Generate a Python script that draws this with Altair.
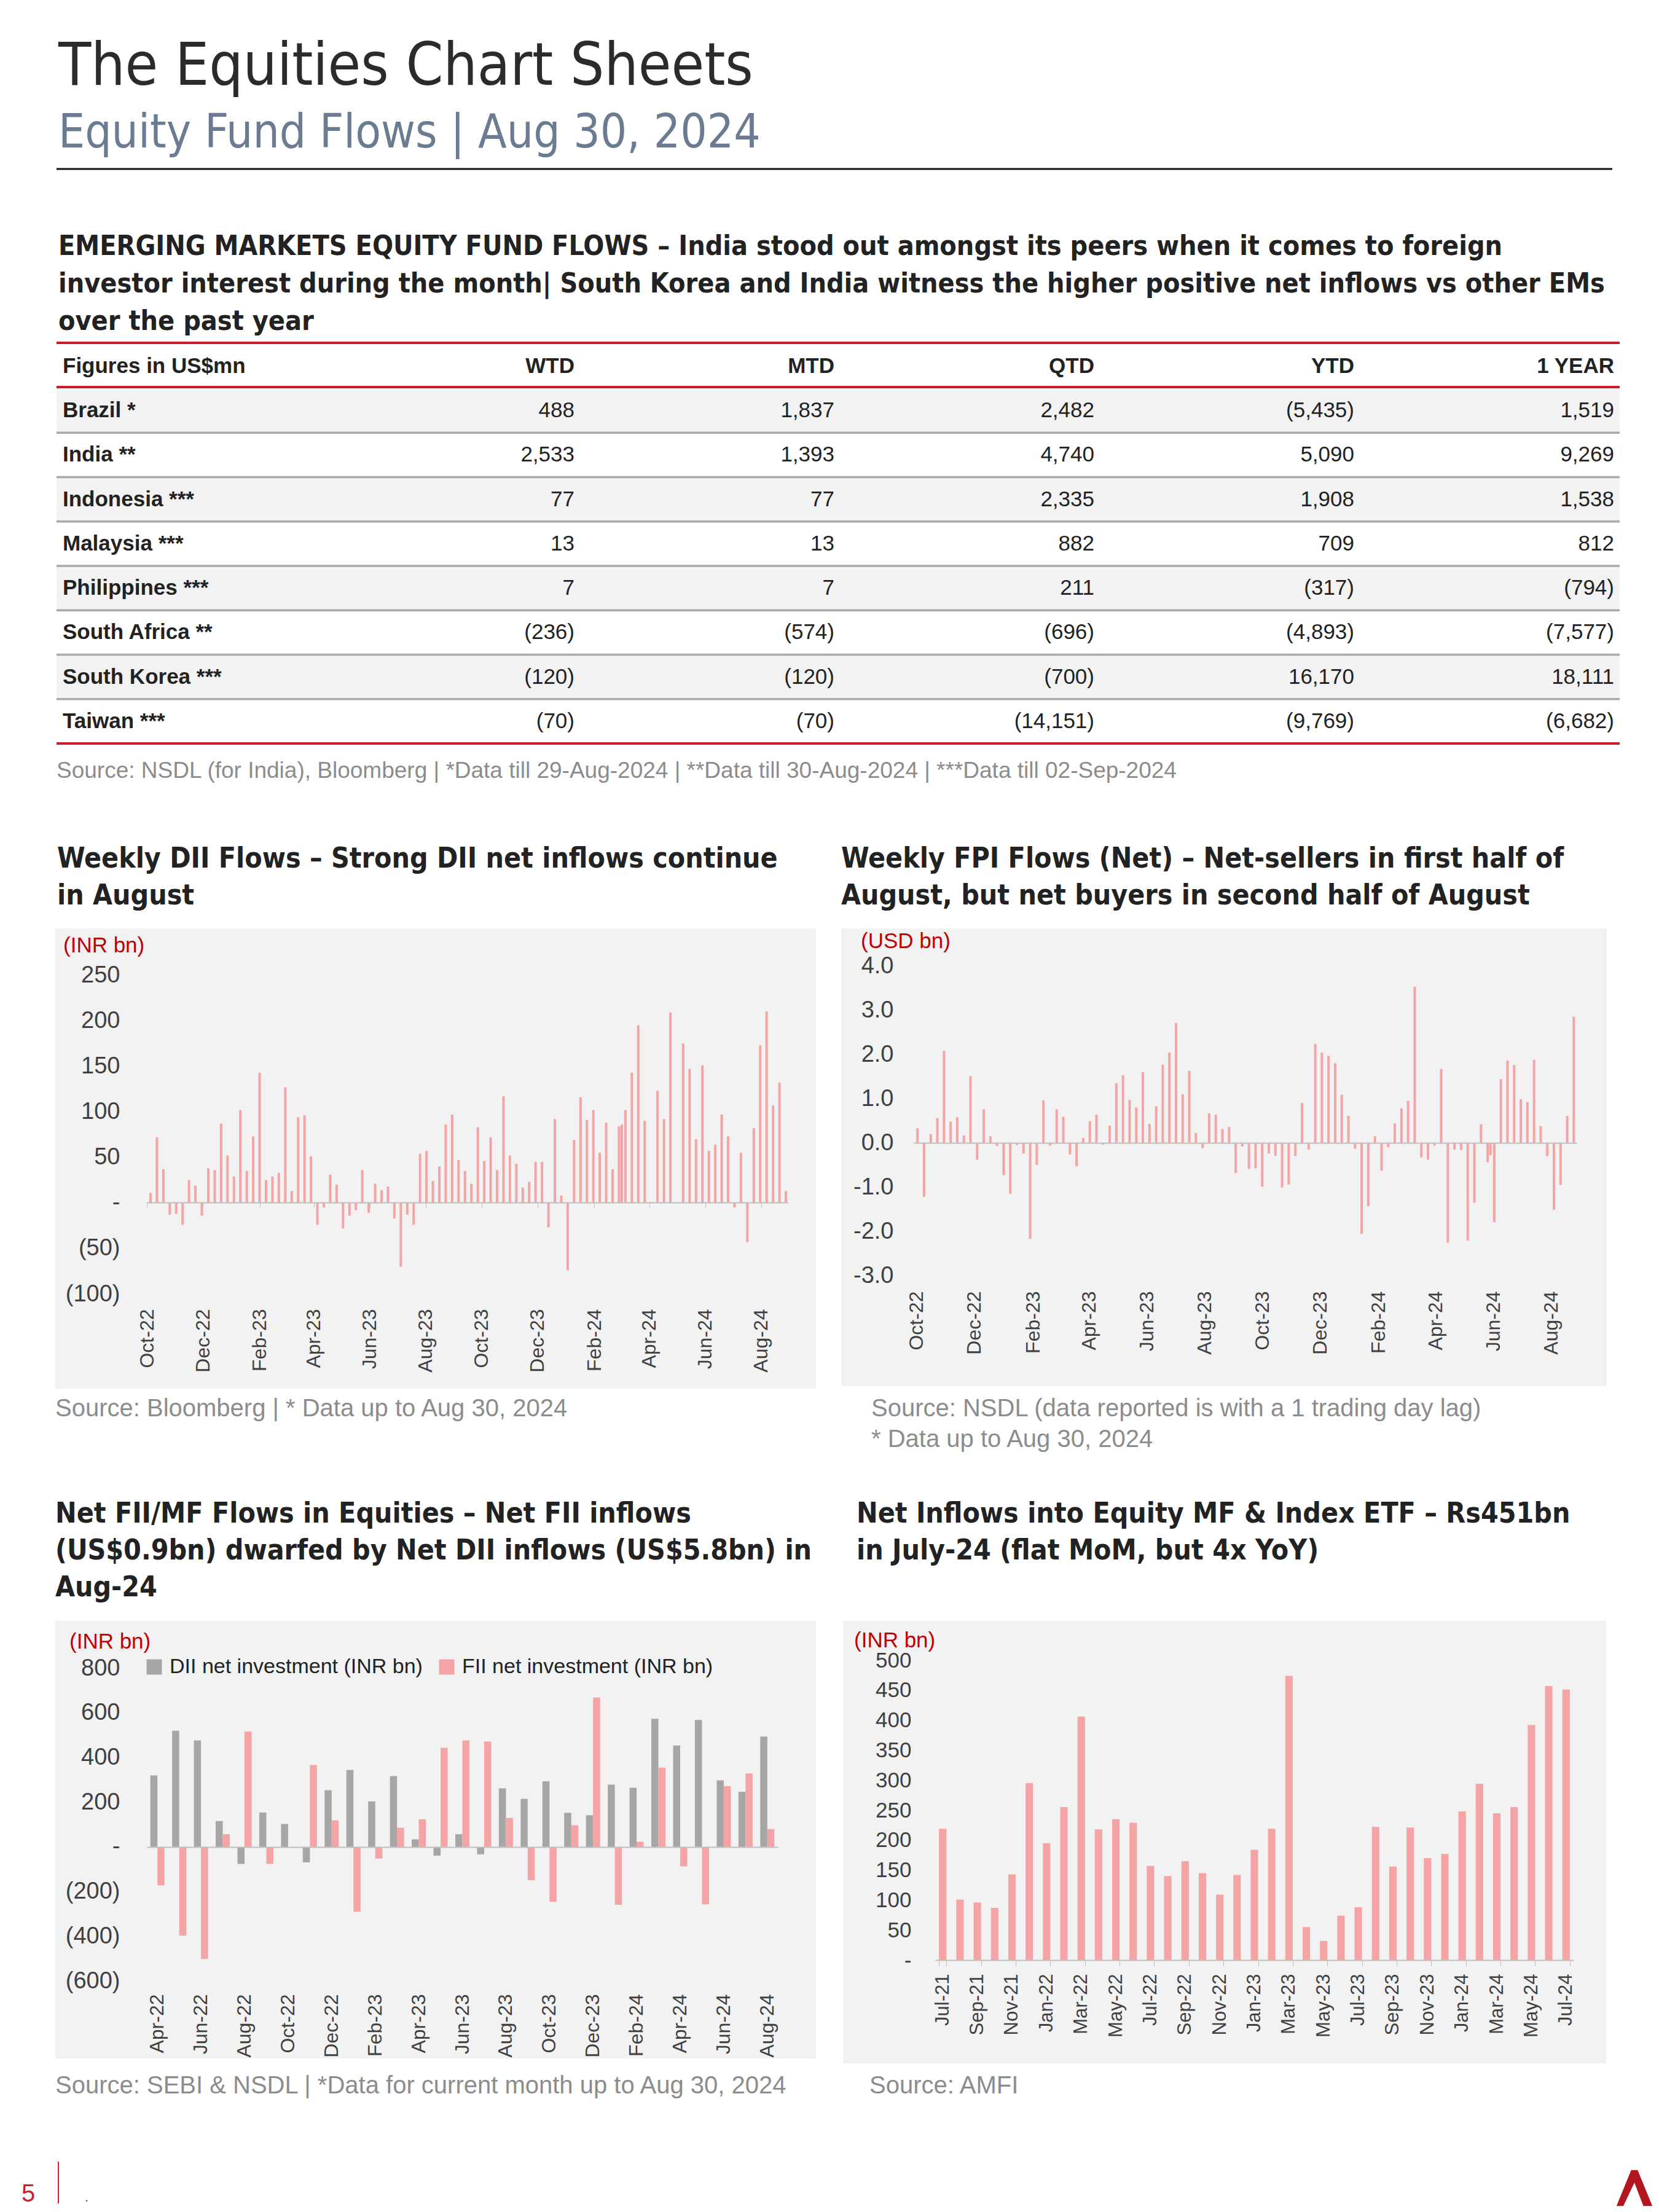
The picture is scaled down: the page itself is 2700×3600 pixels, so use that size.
import altair as alt
import pandas as pd

# ---------------- data ----------------
countries = ["Brazil *", "India **", "Indonesia ***", "Malaysia ***", "Philippines ***",
             "South Africa **", "South Korea ***", "Taiwan ***"]
table_cols = ["WTD", "MTD", "QTD", "YTD", "1 YEAR"]
wtd = [488, 2533, 77, 13, 7, -236, -120, -70]
mtd = [1837, 1393, 77, 13, 7, -574, -120, -70]
qtd = [2482, 4740, 2335, 882, 211, -696, -700, -14151]
ytd = [-5435, 5090, 1908, 709, -317, -4893, 16170, -9769]
one_year = [1519, 9269, 1538, 812, -794, -7577, 18111, -6682]

# weekly DII flows (INR bn)
dii_week = [11, 72, 37, -13, -12, -24, 25, 19, -14, 38,
            36, 87, 52, 29, 102, 35, 73, 143, 25, 29,
            33, 127, 13, 94, 96, 51, -24, -5, 31, 20,
            -28, -14, -8, 36, -11, 21, 14, 18, -17, -70,
            -13, -24, 54, 57, 24, 40, 86, 97, 47, 35,
            21, 83, 46, 72, 36, 117, 52, 43, 17, 23,
            45, 45, -27, 92, 8, -74, 69, 116, 91, 102,
            55, 88, 37, 84, 86, 102, 143, 195, 90, 1,
            123, 92, 209, 0, 175, 147, 70, 151, 57, 64,
            97, 73, -5, 55, -43, 82, 173, 210, 107, 132,
            13]
# weekly FPI flows (USD bn)
fpi_week = [0.33, -1.22, 0.20, 0.56, 2.08, 0.48, 0.58, 0.17, 1.51, -0.38,
            0.76, 0.15, -0.07, -0.73, -1.15, -0.05, -0.24, -2.17, -0.50, 0.96,
            -0.06, 0.76, 0.59, -0.26, -0.53, 0.11, 0.49, 0.64, -0.04, 0.39,
            1.35, 1.53, 0.97, 0.80, 1.60, 0.43, 0.83, 1.77, 2.04, 2.71,
            1.10, 1.63, 0.22, -0.12, 0.67, 0.64, 0.31, 0.36, -0.68, -0.08,
            -0.59, -0.57, -0.99, -0.24, -0.29, -1.01, -0.94, -0.30, 0.90, -0.15,
            2.24, 2.04, 1.97, 1.80, 1.09, 0.61, -0.13, -2.06, -1.43, 0.15,
            -0.63, -0.10, 0.44, 0.78, 0.95, 3.53, -0.33, -0.38, -0.06, 1.67,
            -2.26, -0.15, -0.16, -2.21, -1.35, 0.42, -0.44, -0.28, -1.79, 1.44,
            1.86, 1.76, 0.99, 0.92, 1.88, 0.38, -0.30, -1.51, -0.95, 0.61,
            2.85]

# monthly DII / FII (INR bn), Apr-22 .. Aug-24
fm_months = list(pd.date_range("2022-04-01", periods=29, freq="MS").strftime("%b-%y"))
dii_month = [320, 520, 477, 116, -76, 154, 103, -69, 254, 345, 204, 317, 34, -39, 57,
             -33, 262, 215, 294, 153, 142, 279, 265, 574, 454, 568, 298, 247, 494]
fii_month = [-172, -397, -502, 57, 517, -76, 0, 367, 119, -290, -52, 86, 124, 444, 477,
             472, 130, -149, -246, 97, 669, -259, 23, 355, -87, -257, 272, 329, 80]
series_names = ["DII net investment (INR bn)", "FII net investment (INR bn)"]

# monthly equity MF & index ETF inflows (INR bn), Jul-21 .. Jul-24
mf_months = list(pd.date_range("2021-07-01", periods=37, freq="MS").strftime("%b-%y"))
mf_flows = [219, 101, 96, 87, 143, 295, 195, 255, 406, 218, 235, 229, 157, 140, 165, 145,
            109, 142, 184, 219, 474, 55, 32, 74, 88, 222, 156, 221, 170, 177, 248, 294,
            245, 255, 392, 457, 451]

# ---------------- styling / layout ----------------
W, H = 2684, 3584
FONT_HEAD = "DejaVu Sans Condensed, DejaVu Sans, sans-serif"
FONT_BODY = "Liberation Sans, Arial, sans-serif"
DARK = "#222222"
RED = "#cc1e2b"
UNIT_RED = "#c00000"
PINK = "#f4a4a4"
GRAY_BAR = "#a6a6a6"
PANEL = "#f2f2f2"
ROW_SHADE = "#f2f2f2"
SEP = "#a9a9a9"
SRC = "#8c8c8c"
AXIS_LBL = "#404040"
SUB = "#6b7c92"
AX_LINE = "#bfbfbf"
LOGO_PATH = "M -1 1 L -0.18 -1 L 0.18 -1 L 1 1 L 0.5 1 L 0 -0.3 L -0.62 1 Z"

PAREN = ("datum.value == 0 ? '-' : (datum.value < 0 ? '(' + format(-datum.value, ',') + ')'"
         " : format(datum.value, ','))")
DASH0 = "datum.value == 0 ? '-' : format(datum.value, ',')"
ONE_DEC = "(datum.value < 0 ? '-' : '') + format(abs(datum.value), '.1f')"


def dt(y, m, d):
    return alt.DateTime(year=y, month=m, date=d, utc=True)


def txt(s, x, y, size, color=DARK, weight="normal", font=FONT_HEAD, align="left",
        baseline="alphabetic"):
    return alt.Chart(pd.DataFrame({"t": [s]})).mark_text(
        align=align, baseline=baseline, fontSize=size, font=font, color=color,
        fontWeight=weight).encode(text="t:N", x=alt.value(x), y=alt.value(y))


def box(x0, x1, y0, y1, color):
    return alt.Chart(pd.DataFrame({"a": [0]})).mark_rect(color=color).encode(
        x=alt.value(x0), x2=alt.value(x1), y=alt.value(y0), y2=alt.value(y1))


def hline(x0, x1, y, color, w):
    return alt.Chart(pd.DataFrame({"a": [0]})).mark_rule(color=color, strokeWidth=w).encode(
        x=alt.value(x0), x2=alt.value(x1), y=alt.value(y))


def vline(x, y0, y1, color, w):
    return alt.Chart(pd.DataFrame({"a": [0]})).mark_rule(color=color, strokeWidth=w).encode(
        x=alt.value(x), y=alt.value(y0), y2=alt.value(y1))


def yaxis(offset, values, size=38, **kw):
    return alt.Axis(orient="left", offset=offset, values=values, domain=False, ticks=False,
                    tickSize=0, labelPadding=0, title=None, zindex=2, labelFontSize=size,
                    labelColor=AXIS_LBL, labelFont=FONT_BODY, grid=False, **kw)


def xaxis(offset, values, padding, size=32, **kw):
    return alt.Axis(orient="bottom", offset=offset, values=values, labelAngle=270,
                    labelAlign="right", labelBaseline="middle", labelPadding=padding,
                    domainWidth=2, domainColor=AX_LINE, tickColor=AX_LINE, labelFontSize=size,
                    labelColor=AXIS_LBL, labelFont=FONT_BODY, labelOverlap=False,
                    labelFlush=False, title=None, zindex=2, grid=False, **kw)


layers = []

# ---------------- header ----------------
layers.append(txt("The Equities Chart Sheets", 87, 130, 97, color="#2b2b2b"))
layers.append(txt("Equity Fund Flows | Aug 30, 2024", 87, 232, 76, color=SUB))
layers.append(hline(84, 2616, 267, "#111111", 3))
head_lines = ["EMERGING MARKETS EQUITY FUND FLOWS \u2013 India stood out amongst its peers when it comes to foreign",
              "investor interest during the month| South Korea and India witness the higher positive net inflows vs other EMs",
              "over the past year"]
for i, line in enumerate(head_lines):
    layers.append(txt(line, 87, 407 + 61 * i, 44.5, weight="bold"))

# ---------------- table ----------------
tbl_y = alt.Scale(type="band", domain=countries, range=[624, 1202], paddingInner=0, paddingOuter=0)
tbl_x = alt.Scale(type="point", domain=table_cols, range=[927, 2619], padding=0)
rows_df = pd.DataFrame({"country": countries, "idx": list(range(len(countries)))})

layers.append(alt.Chart(rows_df).mark_rect().encode(
    y=alt.Y("country:N", scale=tbl_y, axis=None),
    x=alt.value(84), x2=alt.value(2628),
    color=alt.condition("datum.idx % 2 == 0", alt.value(ROW_SHADE), alt.value("white"))))
layers.append(alt.Chart(rows_df[rows_df.idx < 7]).mark_rule(color=SEP, strokeWidth=3.5).encode(
    y=alt.Y("country:N", scale=tbl_y, axis=None, bandPosition=1),
    x=alt.value(84), x2=alt.value(2628)))
layers.append(hline(84, 2628, 550, RED, 4))
layers.append(hline(84, 2628, 622, RED, 4))
layers.append(hline(84, 2628, 1202, RED, 4))

layers.append(txt("Figures in US$mn", 94, 588, 35, weight="bold", font=FONT_BODY, baseline="middle"))
layers.append(alt.Chart(pd.DataFrame({"col": table_cols})).mark_text(
    align="right", baseline="middle", fontSize=35, font=FONT_BODY, fontWeight="bold", color=DARK
).encode(x=alt.X("col:N", scale=tbl_x, axis=None), y=alt.value(588), text="col:N"))


def fmt(v):
    return f"{v:,}" if v >= 0 else f"({-v:,})"


cells = []
for i, c in enumerate(countries):
    for col, arr in zip(table_cols, [wtd, mtd, qtd, ytd, one_year]):
        cells.append({"country": c, "col": col, "v": fmt(arr[i])})
cells_df = pd.DataFrame(cells)

layers.append(alt.Chart(rows_df).mark_text(
    align="left", baseline="middle", fontSize=35, font=FONT_BODY, fontWeight="bold", color=DARK
).encode(y=alt.Y("country:N", scale=tbl_y, axis=None), x=alt.value(94), text="country:N"))
layers.append(alt.Chart(cells_df).mark_text(
    align="right", baseline="middle", fontSize=35, font=FONT_BODY, color=DARK
).encode(y=alt.Y("country:N", scale=tbl_y, axis=None),
         x=alt.X("col:N", scale=tbl_x, axis=None), text="v:N"))
layers.append(txt("Source: NSDL (for India), Bloomberg | *Data till 29-Aug-2024 | **Data till 30-Aug-2024 | ***Data till 02-Sep-2024",
                  84, 1247, 37, color=SRC, font=FONT_BODY, baseline="middle"))

# ---------------- panel backgrounds ----------------
layers.append(box(82, 1320, 1503, 2252, PANEL))
layers.append(box(1361, 2607, 1503, 2248, PANEL))
layers.append(box(82, 1320, 2630, 3342, PANEL))
layers.append(box(1364, 2606, 2630, 3350, PANEL))

# ---------------- chart titles & sources ----------------
for i, line in enumerate(["Weekly DII Flows \u2013 Strong DII net inflows continue", "in August"]):
    layers.append(txt(line, 85, 1404 + 60 * i, 46, weight="bold"))
for i, line in enumerate(["Weekly FPI Flows (Net) \u2013 Net-sellers in first half of",
                          "August, but net buyers in second half of August"]):
    layers.append(txt(line, 1361, 1404 + 60 * i, 46, weight="bold"))
for i, line in enumerate(["Net FII/MF Flows in Equities \u2013 Net FII inflows",
                          "(US$0.9bn) dwarfed by Net DII inflows (US$5.8bn) in", "Aug-24"]):
    layers.append(txt(line, 82, 2470 + 60 * i, 46, weight="bold"))
for i, line in enumerate(["Net Inflows into Equity MF & Index ETF \u2013 Rs451bn",
                          "in July-24 (flat MoM, but 4x YoY)"]):
    layers.append(txt(line, 1386, 2470 + 60 * i, 46, weight="bold"))

layers.append(txt("Source: Bloomberg | * Data up to Aug 30, 2024", 82, 2285, 40, color=SRC,
                  font=FONT_BODY, baseline="middle"))
layers.append(txt("Source: NSDL (data reported is with a 1 trading day lag)", 1410, 2285, 40,
                  color=SRC, font=FONT_BODY, baseline="middle"))
layers.append(txt("* Data up to Aug 30, 2024", 1410, 2335, 40, color=SRC, font=FONT_BODY,
                  baseline="middle"))
layers.append(txt("Source: SEBI & NSDL | *Data for current month up to Aug 30, 2024", 82, 3387, 40,
                  color=SRC, font=FONT_BODY, baseline="middle"))
layers.append(txt("Source: AMFI", 1407, 3387, 40, color=SRC, font=FONT_BODY, baseline="middle"))

# unit labels
layers.append(txt("(INR bn)", 95, 1531, 35, color=UNIT_RED, font=FONT_BODY, baseline="middle"))
layers.append(txt("(USD bn)", 1393, 1524, 35, color=UNIT_RED, font=FONT_BODY, baseline="middle"))
layers.append(txt("(INR bn)", 105, 2664, 35, color=UNIT_RED, font=FONT_BODY, baseline="middle"))
layers.append(txt("(INR bn)", 1382, 2662, 35, color=UNIT_RED, font=FONT_BODY, baseline="middle"))

month_ticks = [dt(2022, 10, 1), dt(2022, 12, 1), dt(2023, 2, 1), dt(2023, 4, 1), dt(2023, 6, 1),
               dt(2023, 8, 1), dt(2023, 10, 1), dt(2023, 12, 1), dt(2024, 2, 1), dt(2024, 4, 1),
               dt(2024, 6, 1), dt(2024, 8, 1)]
MON_FMT = "utcFormat(datum.value, '%b-%y')"

# ---------------- weekly DII ----------------
dii_reg = pd.date_range("2022-10-05", periods=100, freq="7D")
dii_dates = list(dii_reg[:74]) + [dii_reg[73] + pd.Timedelta(days=3)] + list(dii_reg[74:])
dii_df = pd.DataFrame({"date": [d.strftime("%Y-%m-%d") for d in dii_dates], "value": dii_week})
DII_ZERO = 1949
layers.append(alt.Chart(dii_df).mark_bar(width=4, color=PINK).encode(
    x=alt.X("date:T",
            scale=alt.Scale(type="utc", domain=[dt(2022, 10, 1), dt(2024, 8, 30)],
                            range=[231, 1274], nice=False, padding=0),
            axis=xaxis(DII_ZERO - H, month_ticks, 165, labelExpr=MON_FMT, tickSize=8)),
    y=alt.Y("value:Q",
            scale=alt.Scale(domain=[-100, 250], range=[2098, 1579], nice=False),
            axis=yaxis(-187, [-100, -50, 0, 50, 100, 150, 200, 250], labelExpr=PAREN)),
    y2=alt.datum(0)))

# ---------------- weekly FPI ----------------
fpi_reg = pd.date_range("2022-10-02", periods=100, freq="7D")
fpi_dates = list(fpi_reg[:87]) + [fpi_reg[86] + pd.Timedelta(days=3)] + list(fpi_reg[87:])
fpi_df = pd.DataFrame({"date": [d.strftime("%Y-%m-%d") for d in fpi_dates], "value": fpi_week})
FPI_ZERO = 1852
layers.append(alt.Chart(fpi_df).mark_bar(width=4, color=PINK).encode(
    x=alt.X("date:T",
            scale=alt.Scale(type="utc", domain=[dt(2022, 9, 28), dt(2024, 8, 28)],
                            range=[1479, 2558], nice=False, padding=0),
            axis=xaxis(FPI_ZERO - H, month_ticks, 241, labelExpr=MON_FMT, ticks=False,
                       tickSize=0)),
    y=alt.Y("value:Q",
            scale=alt.Scale(domain=[-3, 4], range=[2068, 1564], nice=False),
            axis=yaxis(-1446, [-3, -2, -1, 0, 1, 2, 3, 4], labelExpr=ONE_DEC)),
    y2=alt.datum(0)))

# ---------------- monthly DII / FII ----------------
fm_rows = []
for m, d, f in zip(fm_months, dii_month, fii_month):
    fm_rows.append({"month": m, "series": series_names[0], "value": d})
    fm_rows.append({"month": m, "series": series_names[1], "value": f})
fm_df = pd.DataFrame(fm_rows)
FM_ZERO = 2998
layers.append(alt.Chart(fm_df).mark_bar().encode(
    x=alt.X("month:N",
            scale=alt.Scale(type="band", domain=fm_months, range=[231, 1258],
                            paddingInner=0.35, paddingOuter=0.16),
            axis=xaxis(FM_ZERO - H, fm_months[::2], 239, ticks=False, tickSize=0)),
    xOffset=alt.XOffset("series:N", scale=alt.Scale(domain=series_names)),
    y=alt.Y("value:Q",
            scale=alt.Scale(domain=[-600, 800], range=[3216, 2707], nice=False),
            axis=yaxis(-187, [-600, -400, -200, 0, 200, 400, 600, 800], labelExpr=PAREN)),
    y2=alt.datum(0),
    color=alt.Color("series:N", scale=alt.Scale(domain=series_names, range=[GRAY_BAR, PINK]),
                    legend=alt.Legend(orient="none", legendX=226, legendY=2688,
                                      direction="horizontal", title=None, symbolType="square",
                                      symbolSize=620, symbolStrokeWidth=0, symbolOpacity=1,
                                      labelFont=FONT_BODY, labelFontSize=34, labelColor=DARK,
                                      labelLimit=2000, columnPadding=22, labelOffset=8,
                                      padding=0))))

# ---------------- monthly MF inflows ----------------
mf_df = pd.DataFrame({"month": mf_months, "value": mf_flows})
MF_ZERO = 3182
layers.append(alt.Chart(mf_df).mark_bar(color=PINK).encode(
    x=alt.X("month:N",
            scale=alt.Scale(type="band", domain=mf_months, range=[1514, 2553],
                            paddingInner=0.57, paddingOuter=0.22),
            axis=xaxis(MF_ZERO - H, mf_months[::2], 13, size=31, tickSize=9,
                       tickBand="extent")),
    y=alt.Y("value:Q",
            scale=alt.Scale(domain=[0, 500], range=[3182, 2694], nice=False),
            axis=yaxis(-1475, list(range(0, 501, 50)), size=35, labelExpr=DASH0)),
    y2=alt.datum(0)))

# ---------------- footer ----------------
layers.append(txt("5", 27, 3575, 40, color=RED, font=FONT_BODY))
layers.append(vline(87, 3510, 3578, RED, 2))
layers.append(txt(".", 130, 3575, 22, color="#555555", font=FONT_BODY))
layers.append(alt.Chart(pd.DataFrame({"a": [0]})).mark_point(
    shape=LOGO_PATH, size=3400, filled=True, color="#b3161f", opacity=1, strokeWidth=0
).encode(x=alt.value(2652), y=alt.value(3553)))

chart = alt.layer(*layers).properties(
    width=W, height=H, padding=0, background="white",
    autosize=alt.AutoSizeParams(type="none"),
).resolve_scale(
    x="independent", y="independent", color="independent"
).resolve_axis(
    x="independent", y="independent"
).configure_view(stroke=None).configure_axis(
    grid=False, labelFont=FONT_BODY, labelFontSize=33, labelColor=AXIS_LBL,
    domainColor=AX_LINE, tickColor=AX_LINE
)

chart.save("out.html", embed_options={"renderer": "svg", "actions": False})
